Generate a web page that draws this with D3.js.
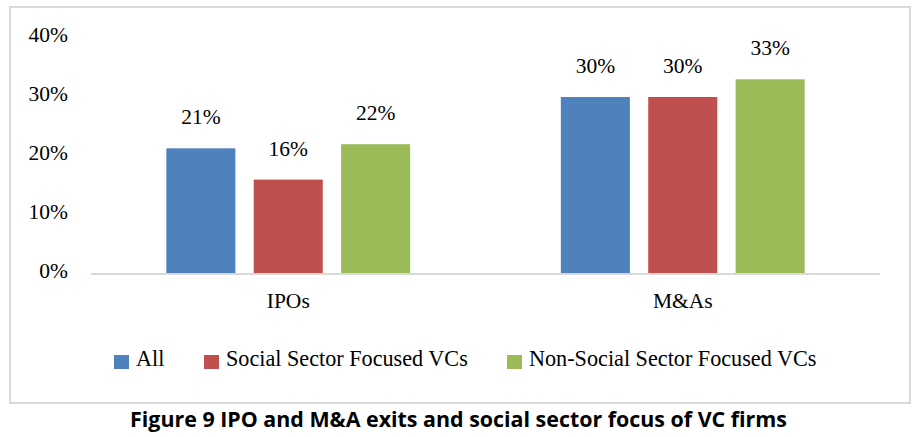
<!DOCTYPE html>
<html><head><meta charset="utf-8">
<script src="https://cdn.jsdelivr.net/npm/d3@7"></script>
<style>body{margin:0;background:#fff}svg{display:block}</style>
</head><body>
<svg id="c" width="920" height="437"></svg>
<script>
const categories = ["IPOs", "M&As"];
const seriesNames = ["All", "Social Sector Focused VCs", "Non-Social Sector Focused VCs"];
const allValues = [0.213, 0.30];
const socialValues = [0.16, 0.30];
const nonSocialValues = [0.22, 0.33];
const valueLabels = [["21%", "30%"], ["16%", "30%"], ["22%", "33%"]];
const yTicks = [0, 0.1, 0.2, 0.3, 0.4];
const colors = ["#4F81BD", "#C0504D", "#9BBB59"];
const title = "Figure 9 IPO and M&A exits and social sector focus of VC firms";

const series = [allValues, socialValues, nonSocialValues];
const svg = d3.select("#c");
const serif = "'Liberation Serif','Times New Roman',serif";
const fs = 21.5;

// outer border
svg.append("rect").attr("x", 10).attr("y", 7).attr("width", 900).attr("height", 396)
  .attr("fill", "#fff").attr("stroke", "#d9d9d9").attr("stroke-width", 2);

const y = d3.scaleLinear().domain([0, 0.4]).range([274, 38]);
const x0 = d3.scaleBand().domain(categories).range([91, 880]).padding(0);
const x1 = d3.scaleBand().domain(seriesNames).range([0, x0.bandwidth()])
  .paddingInner(0.21).paddingOuter(0.862);

// y axis
const yAxis = svg.append("g").attr("transform", "translate(91,0)")
  .call(d3.axisLeft(y).tickValues(yTicks).tickFormat(d3.format(".0%")).tickSize(0).tickPadding(23));
yAxis.select(".domain").remove();
yAxis.selectAll("text").attr("font-family", serif).attr("font-size", fs).attr("fill", "#000").attr("dy", "0.17em");

// bars
categories.forEach((c, ci) => {
  series.forEach((vals, si) => {
    const bx = x0(c) + x1(seriesNames[si]);
    svg.append("rect").attr("x", bx).attr("y", y(vals[ci]))
      .attr("width", x1.bandwidth()).attr("height", y(0) - y(vals[ci]))
      .attr("fill", colors[si]);
    svg.append("text").attr("x", bx + x1.bandwidth() / 2).attr("y", y(vals[ci]) - 24)
      .attr("text-anchor", "middle").attr("font-family", serif).attr("font-size", fs)
      .attr("fill", "#000").text(valueLabels[si][ci]);
  });
});

// baseline
svg.append("line").attr("x1", 91).attr("x2", 880).attr("y1", y(0)).attr("y2", y(0))
  .attr("stroke", "#d9d9d9").attr("stroke-width", 2);

// category labels
svg.selectAll(".cat").data(categories).enter().append("text")
  .attr("x", d => x0(d) + x0.bandwidth() / 2).attr("y", 308)
  .attr("text-anchor", "middle").attr("font-family", serif).attr("font-size", fs)
  .attr("fill", "#000").text(d => d);

// legend
const legendX = [114, 204, 507];
seriesNames.forEach((n, i) => {
  svg.append("rect").attr("x", legendX[i]).attr("y", 355).attr("width", 15).attr("height", 14)
    .attr("fill", colors[i]);
  svg.append("text").attr("x", legendX[i] + 22).attr("y", 366)
    .attr("font-family", serif).attr("font-size", 22.2).attr("fill", "#000").text(n);
});

// title
svg.append("text").attr("x", 130).attr("y", 427)
  .attr("font-family", "'Open Sans','Noto Sans',sans-serif").attr("font-weight", "bold")
  .attr("font-size", 21).attr("textLength", 657).attr("lengthAdjust", "spacingAndGlyphs")
  .attr("fill", "#000").text(title);
</script>
</body></html>
